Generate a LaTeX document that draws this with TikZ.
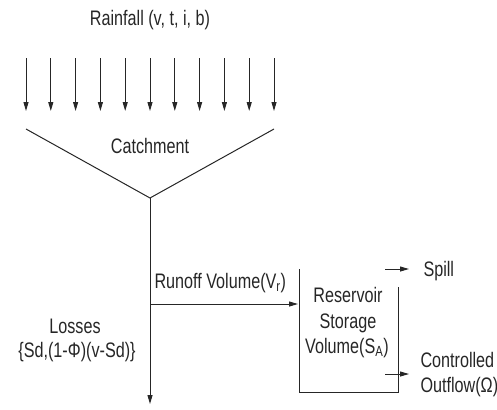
\documentclass[tikz,border=0pt]{standalone}
\usepackage{fontspec}
\setmainfont{Liberation Sans}[FakeStretch=0.77]
\usetikzlibrary{arrows.meta}
\begin{document}
\begin{tikzpicture}[x=1bp,y=-1bp, line width=1bp, draw=black!85,
  lbl/.style={font=\fontsize{21bp}{25bp}\selectfont, inner sep=0pt, anchor=base, text=black!85},
  arr/.style={-{Triangle[length=9bp,width=5bp]}}]
\useasboundingbox (0,0) rectangle (497,409);
% rainfall
\node[lbl] (rain) at (150,25) {Rainfall (v, t, i, b)};
\foreach \i in {0,...,10} {
  \coordinate (rt\i) at (26+24.8*\i,58);
  \coordinate (rb\i) at (26+24.8*\i,111);
  \draw[arr] (rt\i) -- (rb\i);
}
% catchment
\coordinate (cl) at (26,129);
\coordinate (cr) at (274,129);
\coordinate (cb) at (150,198);
\draw (cl) -- (cb) -- (cr);
\node[lbl] (catch) at (150,153) {Catchment};
% losses
\coordinate (lossend) at (150,404);
\draw[arr] (cb) -- (lossend);
\node[lbl] (lossA) at (75,333) {Losses};
\node[lbl] (lossB) at (77,357) {\{Sd,(1-Φ)(v-Sd)\}};
% runoff
\coordinate (rs) at (150,304);
\coordinate (re) at (298,304);
\draw[arr] (rs) -- (re);
\node[lbl, anchor=base west] (runoff) at (154,288) {Runoff Volume(V\textsubscript{r})};
% reservoir
\coordinate (bTL) at (299,269);
\coordinate (bBL) at (299,392);
\coordinate (bBR) at (398,392);
\coordinate (bTR) at (398,287);
\draw (bTL) -- (bBL) -- (bBR) -- (bTR);
\node[lbl] (resA) at (348,302) {Reservoir};
\node[lbl] (resB) at (348,328) {Storage};
\node[lbl] (resC) at (347,353) {Volume(S\textsubscript{A})};
% spill
\coordinate (ss) at (385,269);
\coordinate (se) at (409,269);
\draw[arr] (ss) -- (se);
\node[lbl, anchor=base west] (spill) at (423,276) {Spill};
% controlled outflow
\coordinate (os) at (385,374);
\coordinate (oe) at (409,374);
\draw[arr] (os) -- (oe);
\node[lbl, anchor=base west] (outA) at (420,367) {Controlled};
\node[lbl, anchor=base west] (outB) at (420,392) {Outflow(Ω)};
\end{tikzpicture}
\end{document}
